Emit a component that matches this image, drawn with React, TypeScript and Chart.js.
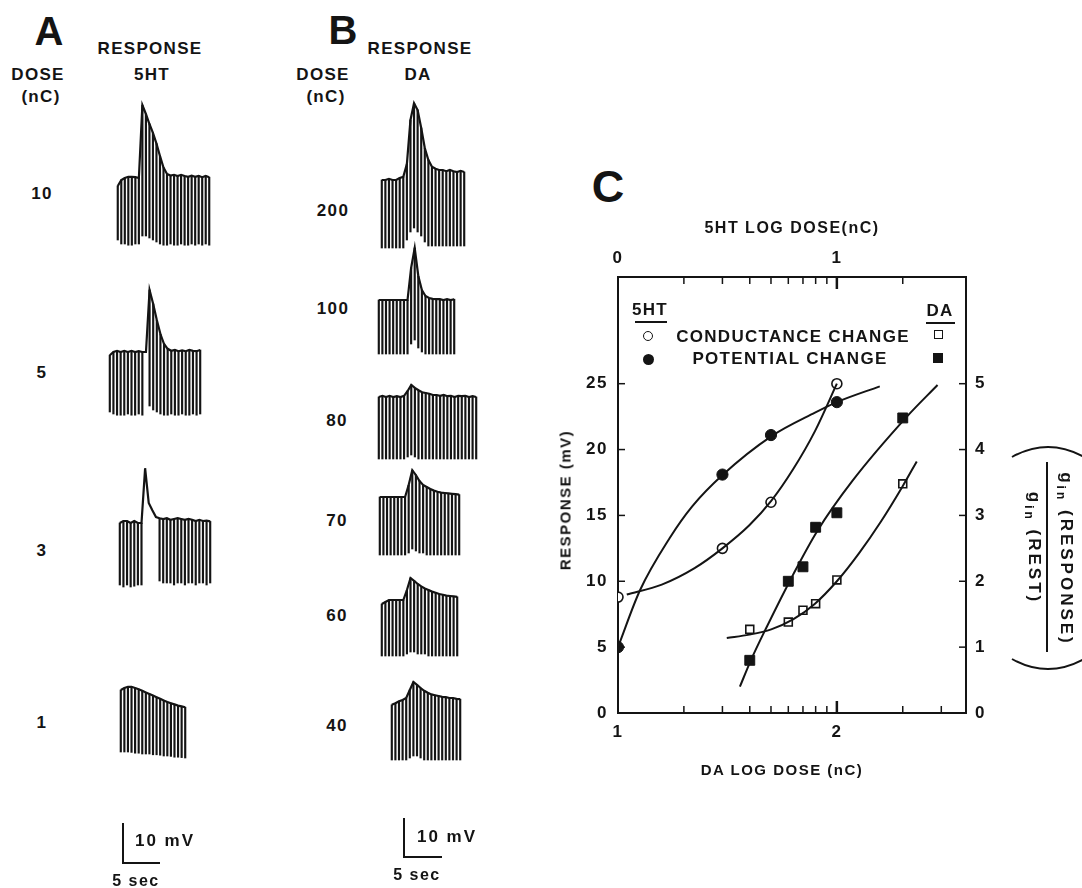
import React, { useEffect, useRef } from "react";
import { Chart, registerables } from "chart.js";
Chart.register(...registerables);

const FONT = "'Liberation Sans', Arial, sans-serif";
const INK = "#141414";

// ---------------- Panel C data ----------------
const ht5Doses = [1, 3, 5, 10]; // nC (top axis, log)
const daDoses = [40, 60, 70, 80, 100, 200]; // nC (bottom axis, log)
const ht5Potential = [5.0, 18.1, 21.1, 23.6]; // mV (left axis)
const ht5Conductance = [1.76, 2.5, 3.2, 5.0]; // g ratio (right axis)
const daPotential = [4.0, 10.0, 11.1, 14.1, 15.2, 22.4]; // mV
const daConductance = [1.27, 1.38, 1.56, 1.66, 2.02, 3.48]; // g ratio

// fitted curves (x = log dose)
const ht5PotCurveX = [0.0, 0.1, 0.237, 0.34, 0.48, 0.7, 0.9, 1.0, 1.196];
const ht5PotCurveY = [5.0, 9.3, 13.3, 15.7, 18.1, 21.0, 22.8, 23.6, 24.8];
const ht5CondCurveX = [0.04, 0.2, 0.35, 0.477, 0.6, 0.7, 0.8, 0.9, 1.0];
const ht5CondCurveY = [1.8, 1.95, 2.2, 2.5, 2.85, 3.22, 3.7, 4.28, 5.0];
const daPotCurveX = [1.557, 1.607, 1.68, 1.8, 1.91, 2.07, 2.32, 2.46];
const daPotCurveY = [2.0, 4.0, 6.55, 10.5, 13.8, 17.6, 22.5, 24.9];
const daCondCurveX = [1.497, 1.6, 1.7, 1.8, 1.9, 2.0, 2.1, 2.2, 2.3, 2.365];
const daCondCurveY = [1.14, 1.19, 1.27, 1.42, 1.66, 2.0, 2.42, 2.9, 3.44, 3.82];

// axis ticks
const bottomTicks = [1, 2];
const topTicks = [0, 1];
const leftTicks = [0, 5, 10, 15, 20, 25];
const rightTicks = [0, 1, 2, 3, 4, 5];
const daMinorDoses = [20, 30, 40, 50, 60, 70, 80, 90, 100, 200, 300];
const ht5MinorDoses = [2, 3, 4, 5, 6, 7, 8, 9, 10, 20];

// ---------------- Panels A/B traces (mV rel. to resting level, one value per pulse) ----------------
const a10Tops = [-2, -0.5, 0, 0.3, 0.3, 0.2, 0, 18.2, 16, 13.5, 11.3, 8.6, 5.5, 2.6, 1.0, 0.6, 0.8, 0.5, 0.8, 0.5, 0.3, 0.6, 0.3, 0.5, 0.2, 0.5, 0.2];
const a10Bottoms = [-15.5, -16.5, -16.5, -16.8, -16.8, -16.5, -16.5, -14.5, -14.5, -15, -15.5, -16, -16.5, -16.8, -16.8, -16.5, -16.8, -16.8, -16.5, -16.8, -16.8, -16.5, -16.8, -16.5, -16.8, -16.5, -16.8];
const a5Tops = [-0.8, 0, 0.3, 0, 0.3, 0, 0.3, 0, 0.2, 0, 0, 15.5, 12, 8, 4.5, 2, 0.8, 0.3, 0.5, 0.2, 0.4, 0.2, 0.5, 0.3, 0.2, 0.5];
const a5Bottoms = [-15, -15.5, -15.8, -15.8, -15.8, -15.5, -15.8, -15.8, -15.5, -15.8, null, -13.5, -14.5, -15, -15.5, -15.8, -15.8, -15.5, -15.8, -15.8, -15.5, -15.8, -15.8, -15.5, -15.8, -15.5];
const a3Tops = [0, 0.5, 0.5, 0, 0.5, 0, 0, 13.7, 5, 3.2, 1.5, 1.2, 1, 1.2, 0.8, 1, 1.2, 1, 0.8, 1, 0.8, 0.5, 0.8, 0.5, 0.6, 0.4];
const a3Bottoms = [-15.5, -16, -15.5, -16, -15.8, -15.5, -15.5, null, null, null, null, -14.5, -15, -15, -15, -15.5, -15, -15, -15.5, -15, -15, -15.5, -15, -15, -15.5, -15];
const a1Tops = [0, 0.5, 0.8, 0.8, 0.5, 0.2, -0.2, -0.6, -1, -1.4, -1.8, -2.2, -2.6, -3, -3.3, -3.6, -3.9, -4.1, -4.3];
const a1Bottoms = [-15.5, -15.5, -15.5, -15.6, -15.8, -15.8, -16, -16, -16, -16.2, -16.2, -16.3, -16.5, -16.5, -16.6, -16.8, -16.8, -16.9, -17];

const b200Tops = [0, 0, 0.3, 0, 0, 0.5, 0.8, 4, 15, 19.2, 17.5, 13, 8, 5, 3.3, 2.8, 2.5, 2.5, 2.2, 2.5, 2.2, 2, 2.3, 2];
const b200Bottoms = [-17, -17, -17, -17, -17, -17, -17, -15, -13, -12, -13, -14, -15.5, -16.5, -16.5, -16.5, -16.5, -16.5, -16.5, -16.5, -16.5, -16.5, -16.5, -16.5];
const b100Tops = [0, 0, 0, 0, 0, 0, 0, 0, 0, 8, 13, 6, 2.5, 1, 0.5, 0.3, 0.2, 0.2, 0, 0.2, 0, 0.2];
const b100Bottoms = [-13.5, -13.5, -13.5, -13.5, -13.5, -13.5, -13.5, -13.5, -13.5, -11, -10, -12, -13, -13.5, -13.5, -13.5, -13.5, -13.5, -13.5, -13.5, -13.5, -13.5];
const b80Tops = [0, 0.3, 0, 0.3, 0, 0.2, 0, 0.3, 1.5, 3, 2.3, 1.7, 1.2, 1, 0.8, 0.5, 0.5, 0.3, 0.5, 0.2, 0.3, 0, 0.3, 0.2, 0.3, 0, 0.2, 0];
const b80Bottoms = [-15.5, -15.5, -15.5, -15.5, -15.5, -15.5, -15.5, -15.5, -15, -14.5, -15, -15.5, -15.5, -15.5, -15.5, -15.5, -15.5, -15.5, -15.5, -15.5, -15.5, -15.5, -15.5, -15.5, -15.5, -15.5, -15.5, -15.5];
const b70Tops = [0, 0, 0, 0, 0, 0, 0, 0, 3, 6.7, 5.5, 4, 3, 2.5, 2, 1.6, 1.3, 1.1, 1, 0.9, 0.8, 0.7, 0.6];
const b70Bottoms = [-14.5, -14.5, -14.5, -14.5, -14.5, -14.5, -14.5, -14.5, -14, -13, -13.5, -14, -14, -14.5, -14.5, -14.5, -14.5, -14.5, -14.5, -14.5, -14.5, -14.5, -14.5];
const b60Tops = [-1, -0.5, 0, 0, 0, 0, 0, 2.5, 5.5, 4.8, 4, 3.4, 2.9, 2.5, 2.1, 1.8, 1.5, 1.3, 1.1, 1, 0.9, 0.8];
const b60Bottoms = [-14, -14, -14, -14, -14, -14, -14, -13.5, -13, -13, -13.5, -13.5, -13.5, -14, -14, -14, -14, -14, -14, -14, -14, -14];
const b40Tops = [-1.2, -0.8, -0.3, 0, 0.5, 2.5, 4.5, 3.8, 3, 2.3, 1.8, 1.4, 1.2, 1, 0.8, 0.7, 0.5, 0.5, 0.3, 0.2];
const b40Bottoms = [-15, -15, -15, -15, -15, -14.5, -14, -14, -14.5, -15, -15, -15, -15, -15, -15, -15, -15, -15, -15, -15];

const PX_PER_MV = 4.0;
const TRACE_YMIN = -22;
const TRACE_YMAX = 24;

type TraceProps = { left: number; baseline: number; spacing: number; tops: number[]; bottoms: (number | null)[] };

function Trace({ left, baseline, spacing, tops, bottoms }: TraceProps) {
  const ref = useRef<HTMLCanvasElement>(null);
  const width = Math.round(tops.length * spacing);
  const height = Math.round((TRACE_YMAX - TRACE_YMIN) * PX_PER_MV);
  const top = Math.round(baseline - TRACE_YMAX * PX_PER_MV);
  useEffect(() => {
    if (!ref.current) return;
    const labels = tops.map((_, i) => String(i));
    const chart = new Chart(ref.current, {
      type: "bar",
      data: {
        labels,
        datasets: [
          {
            type: "line",
            data: tops,
            borderColor: INK,
            borderWidth: 2.2,
            pointRadius: 0,
            tension: 0,
          } as any,
          {
            type: "bar",
            data: tops.map((t, i) => (bottoms[i] == null ? null : [bottoms[i], t])) as any,
            backgroundColor: INK,
            barThickness: 1.5,
          } as any,
        ],
      },
      options: {
        animation: false,
        responsive: false,
        devicePixelRatio: 1,
        events: [],
        layout: { padding: 0 },
        plugins: { legend: { display: false }, tooltip: { enabled: false } },
        scales: {
          x: { display: false, offset: true },
          y: { display: false, min: TRACE_YMIN, max: TRACE_YMAX },
        },
      },
    });
    return () => chart.destroy();
  }, []);
  return (
    <canvas
      ref={ref}
      width={width}
      height={height}
      style={{ position: "absolute", left, top, width, height }}
    />
  );
}

const inwardTicks = {
  id: "inwardTicks",
  beforeDraw(chart: any) {
    chart.ctx.letterSpacing = "1.5px";
  },
  afterDatasetsDraw(chart: any) {
    const { ctx, chartArea, scales } = chart;
    const { left, right, top, bottom } = chartArea;
    ctx.save();
    ctx.strokeStyle = INK;
    ctx.lineWidth = 1.5;
    const line = (x1: number, y1: number, x2: number, y2: number) => {
      ctx.beginPath();
      ctx.moveTo(x1, y1);
      ctx.lineTo(x2, y2);
      ctx.stroke();
    };
    daMinorDoses.forEach((d) => {
      const x = scales.x.getPixelForValue(Math.log10(d));
      const len = d === 100 ? 12 : 7;
      ctx.lineWidth = d === 100 ? 2.5 : 1.5;
      line(x, bottom, x, bottom - len);
    });
    ht5MinorDoses.forEach((d) => {
      const x = scales.x2.getPixelForValue(Math.log10(d));
      const len = d === 10 ? 12 : 7;
      ctx.lineWidth = d === 10 ? 2.5 : 1.5;
      line(x, top, x, top + len);
    });
    ctx.lineWidth = 1.5;
    leftTicks.slice(1).forEach((v) => {
      const y = scales.y.getPixelForValue(v);
      line(left, y, left + 7, y);
    });
    rightTicks.slice(1).forEach((v) => {
      const y = scales.y2.getPixelForValue(v);
      line(right - 7, y, right, y);
    });
    ctx.restore();
  },
};

const zip = (xs: number[], ys: number[]) => xs.map((x, i) => ({ x, y: ys[i] }));

function PanelC() {
  const ref = useRef<HTMLCanvasElement>(null);
  useEffect(() => {
    if (!ref.current) return;
    const curve = (data: any, xAxisID: string, yAxisID: string) => ({
      data,
      xAxisID,
      yAxisID,
      showLine: true,
      pointRadius: 0,
      borderColor: INK,
      borderWidth: 2,
      cubicInterpolationMode: "monotone",
      fill: false,
    });
    const tickFont = { family: FONT, size: 17, weight: "bold" as const };
    const titleFont = { family: FONT, size: 15, weight: "bold" as const };
    const chart = new Chart(ref.current, {
      type: "scatter",
      data: {
        datasets: [
          curve(zip(ht5PotCurveX, ht5PotCurveY), "x2", "y") as any,
          curve(zip(ht5CondCurveX, ht5CondCurveY), "x2", "y2") as any,
          curve(zip(daPotCurveX, daPotCurveY), "x", "y") as any,
          curve(zip(daCondCurveX, daCondCurveY), "x", "y2") as any,
          {
            data: ht5Doses.map((d, i) => ({ x: Math.log10(d), y: ht5Conductance[i] })),
            xAxisID: "x2",
            yAxisID: "y2",
            pointStyle: "circle",
            pointRadius: 5,
            pointBackgroundColor: "#fff",
            pointBorderColor: INK,
            pointBorderWidth: 1.6,
          },
          {
            data: ht5Doses.map((d, i) => ({ x: Math.log10(d), y: ht5Potential[i] })),
            xAxisID: "x2",
            yAxisID: "y",
            pointStyle: "circle",
            pointRadius: 5.6,
            pointBackgroundColor: INK,
            pointBorderColor: INK,
            pointBorderWidth: 1,
          },
          {
            data: daDoses.map((d, i) => ({ x: Math.log10(d), y: daConductance[i] })),
            xAxisID: "x",
            yAxisID: "y2",
            pointStyle: "rect",
            pointRadius: 5.6,
            pointBackgroundColor: "#fff",
            pointBorderColor: INK,
            pointBorderWidth: 1.6,
          },
          {
            data: daDoses.map((d, i) => ({ x: Math.log10(d), y: daPotential[i] })),
            xAxisID: "x",
            yAxisID: "y",
            pointStyle: "rect",
            pointRadius: 7,
            pointBackgroundColor: INK,
            pointBorderColor: INK,
            pointBorderWidth: 1,
          },
        ] as any,
      },
      options: {
        animation: false,
        responsive: false,
        devicePixelRatio: 1,
        events: [],
        layout: { padding: 0 },
        plugins: { legend: { display: false }, tooltip: { enabled: false } },
        scales: {
          x: {
            type: "linear",
            position: "bottom",
            min: 1.0,
            max: 2.59,
            grid: { display: false, drawTicks: false },
            border: { display: true, color: INK, width: 2 },
            ticks: { font: tickFont, color: INK, padding: 9, callback: (v: any) => String(v) },
            afterBuildTicks: (s: any) => {
              s.ticks = bottomTicks.map((v) => ({ value: v }));
            },
            afterFit: (s: any) => {
              s.height = 67;
            },
            title: { display: false },
          },
          x2: {
            type: "linear",
            position: "top",
            min: 0.0,
            max: 1.59,
            grid: { display: false, drawTicks: false },
            border: { display: true, color: INK, width: 2 },
            ticks: { font: tickFont, color: INK, padding: 8, callback: (v: any) => String(v) },
            afterBuildTicks: (s: any) => {
              s.ticks = topTicks.map((v) => ({ value: v }));
            },
            afterFit: (s: any) => {
              s.height = 62;
            },
            title: { display: true, text: "5HT LOG DOSE(nC)", font: { ...titleFont, size: 16 }, color: INK, padding: { top: 4, bottom: 0 } },
          },
          y: {
            type: "linear",
            position: "left",
            min: 0,
            max: 33.1,
            grid: { display: false, drawTicks: false },
            border: { display: true, color: INK, width: 2 },
            ticks: { font: tickFont, color: INK, padding: 10, callback: (v: any) => String(v) },
            afterBuildTicks: (s: any) => {
              s.ticks = leftTicks.map((v) => ({ value: v }));
            },
            afterFit: (s: any) => {
              s.width = 70;
            },
            title: { display: false },
          },
          y2: {
            type: "linear",
            position: "right",
            min: 0,
            max: 6.62,
            grid: { display: false, drawTicks: false },
            border: { display: true, color: INK, width: 2 },
            ticks: { font: tickFont, color: INK, padding: 9, callback: (v: any) => String(v) },
            afterBuildTicks: (s: any) => {
              s.ticks = rightTicks.map((v) => ({ value: v }));
            },
            afterFit: (s: any) => {
              s.width = 52;
            },
          },
        } as any,
      },
      plugins: [inwardTicks],
    });
    return () => chart.destroy();
  }, []);
  return (
    <canvas
      ref={ref}
      width={470}
      height={565}
      style={{ position: "absolute", left: 548, top: 215, width: 470, height: 565 }}
    />
  );
}

function T({ x, y, size = 17, children, rotate, spacing = 1.3, weight = "bold" }: any) {
  return (
    <div
      style={{
        position: "absolute",
        left: x,
        top: y,
        transform: `translate(-50%, -50%)${rotate ? ` rotate(${rotate}deg)` : ""}`,
        font: `${weight} ${size}px ${FONT}`,
        letterSpacing: spacing,
        whiteSpace: "nowrap",
        color: INK,
        lineHeight: 1,
      }}
    >
      {children}
    </div>
  );
}

function Box({ x, y, w, h, style }: any) {
  return <div style={{ position: "absolute", left: x, top: y, width: w, height: h, boxSizing: "border-box", ...style }} />;
}

export default function App() {
  return (
    <div style={{ position: "absolute", left: 0, top: 0, width: 1082, height: 888, background: "#fff", overflow: "hidden" }}>
      {/* Panel A */}
      <T x={49} y={31} size={40} spacing={0}>A</T>
      <T x={150} y={48}>RESPONSE</T>
      <T x={38} y={74}>DOSE</T>
      <T x={152} y={74}>5HT</T>
      <T x={41} y={96}>(nC)</T>
      <T x={42} y={193}>10</T>
      <T x={42} y={372}>5</T>
      <T x={42} y={550}>3</T>
      <T x={42} y={722}>1</T>
      <Trace left={116} baseline={178} spacing={3.5} tops={a10Tops} bottoms={a10Bottoms} />
      <Trace left={108} baseline={352} spacing={3.6} tops={a5Tops} bottoms={a5Bottoms} />
      <Trace left={118} baseline={523} spacing={3.6} tops={a3Tops} bottoms={a3Bottoms} />
      <Trace left={119} baseline={690} spacing={3.6} tops={a1Tops} bottoms={a1Bottoms} />
      <Box x={121.5} y={823} w={2} h={41} style={{ background: INK }} />
      <Box x={121.5} y={862} w={38} h={2} style={{ background: INK }} />
      <T x={165} y={840} size={17} spacing={2}>10 mV</T>
      <T x={136} y={881} size={16} spacing={1.5}>5 sec</T>

      {/* Panel B */}
      <T x={343} y={30} size={40} spacing={0}>B</T>
      <T x={420} y={48}>RESPONSE</T>
      <T x={323} y={74}>DOSE</T>
      <T x={418} y={74}>DA</T>
      <T x={326} y={96}>(nC)</T>
      <T x={333} y={210}>200</T>
      <T x={333} y={308}>100</T>
      <T x={337} y={420}>80</T>
      <T x={337} y={520}>70</T>
      <T x={337} y={615}>60</T>
      <T x={337} y={725}>40</T>
      <Trace left={380} baseline={180} spacing={3.6} tops={b200Tops} bottoms={b200Bottoms} />
      <Trace left={377} baseline={300} spacing={3.6} tops={b100Tops} bottoms={b100Bottoms} />
      <Trace left={377} baseline={397} spacing={3.6} tops={b80Tops} bottoms={b80Bottoms} />
      <Trace left={378} baseline={497} spacing={3.6} tops={b70Tops} bottoms={b70Bottoms} />
      <Trace left={380} baseline={600} spacing={3.6} tops={b60Tops} bottoms={b60Bottoms} />
      <Trace left={390} baseline={700} spacing={3.6} tops={b40Tops} bottoms={b40Bottoms} />
      <Box x={403} y={818} w={2} h={40} style={{ background: INK }} />
      <Box x={403} y={856} w={39} h={2} style={{ background: INK }} />
      <T x={447} y={836} size={17} spacing={2}>10 mV</T>
      <T x={417} y={875} size={16} spacing={1.5}>5 sec</T>

      {/* Panel C */}
      <T x={608} y={186} size={45} spacing={0}>C</T>
      <PanelC />
      <T x={565} y={500} size={15} spacing={1.5} rotate={-90}>RESPONSE (mV)</T>
      <T x={782} y={769} size={15} spacing={1.5}>DA LOG DOSE (nC)</T>
      {/* legend */}
      <T x={650} y={309}>5HT</T>
      <Box x={635} y={321} w={32} h={2} style={{ background: INK }} />
      <T x={940} y={310}>DA</T>
      <Box x={926} y={322} w={29} h={2} style={{ background: INK }} />
      <Box x={643} y={331} w={10} h={10} style={{ border: `1.8px solid ${INK}`, borderRadius: "50%", background: "#fff" }} />
      <Box x={642.5} y={353.5} w={11} h={11} style={{ background: INK, borderRadius: "50%" }} />
      <T x={793} y={336}>CONDUCTANCE CHANGE</T>
      <T x={790} y={358}>POTENTIAL CHANGE</T>
      <Box x={934} y={330} w={8.5} h={8.5} style={{ border: `1.8px solid ${INK}`, background: "#fff" }} />
      <Box x={933} y={353} w={10} h={10} style={{ background: INK }} />

      {/* right axis label: ( g_in(RESPONSE) / g_in(REST) ) rotated */}
      <svg width={1082} height={888} style={{ position: "absolute", left: 0, top: 0, pointerEvents: "none" }}>
        <path d="M1012 457 Q1048 437 1084 457" fill="none" stroke={INK} strokeWidth={2} />
        <path d="M1012 659 Q1048 679 1084 659" fill="none" stroke={INK} strokeWidth={2} />
      </svg>
      <Box x={1046} y={462} w={2} h={190} style={{ background: INK }} />
      <T x={1065} y={559} size={17} spacing={3} rotate={90}>
        g<sub style={{ fontSize: 12 }}>in</sub> (RESPONSE)
      </T>
      <T x={1033} y={548} size={17} spacing={3} rotate={90}>
        g<sub style={{ fontSize: 12 }}>in</sub> (REST)
      </T>
    </div>
  );
}
